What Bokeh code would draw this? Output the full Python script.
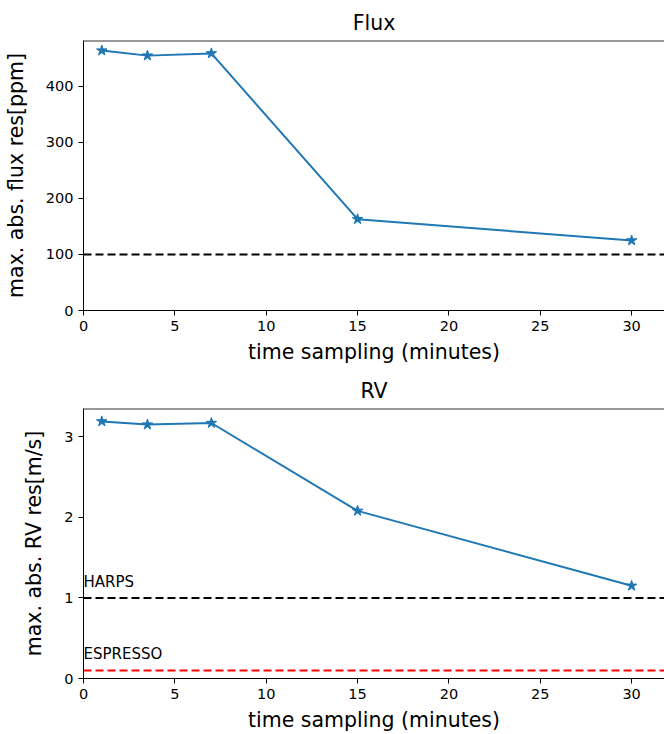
from bokeh.plotting import figure
from bokeh.layouts import column
from bokeh.models import Span, Label, FixedTicker, Range1d
from bokeh.embed import file_html
from bokeh.resources import INLINE

# data
sampling = [1, 3.5, 7, 15, 30]
flux_res = [464, 455, 459, 163, 125]
rv_res = [3.19, 3.15, 3.17, 2.08, 1.15]
flux_limit = 100
harps_limit = 1.0
espresso_limit = 0.1
x_ticks = [0, 5, 10, 15, 20, 25, 30]
flux_ticks = [0, 100, 200, 300, 400]
rv_ticks = [0, 1, 2, 3]
x_max = 31.8
flux_max = 482
rv_max = 3.35

FONT = "DejaVu Sans"
BLUE = "#1f77b4"


def style(p, yticks, ylabel, ytop):
    p.title.text_font = FONT
    p.title.text_font_size = "20.5px"
    p.title.text_font_style = "normal"
    p.title.text_color = "black"
    p.title.align = "center"
    p.title.standoff = 12
    p.xaxis.axis_label = "time sampling (minutes)"
    p.yaxis.axis_label = ylabel
    for ax in (p.xaxis[0], p.yaxis[0]):
        ax.axis_label_text_font = FONT
        ax.axis_label_text_font_size = "20.5px"
        ax.axis_label_text_font_style = "normal"
        ax.axis_label_text_color = "black"
        ax.major_label_text_font = FONT
        ax.major_label_text_font_size = "14.5px"
        ax.major_label_text_color = "black"
        ax.axis_line_color = "black"
        ax.major_tick_line_color = "black"
        ax.major_tick_out = 5
        ax.major_tick_in = 0
        ax.minor_tick_line_color = None
    p.xaxis.axis_label_standoff = 6
    p.yaxis.axis_label_standoff = 15
    p.xaxis.ticker = FixedTicker(ticks=x_ticks)
    p.yaxis.ticker = FixedTicker(ticks=yticks)
    p.xgrid.visible = False
    p.ygrid.visible = False
    p.outline_line_color = None
    p.add_layout(Span(location=ytop, dimension="width", line_color="#333333", line_width=2))
    p.background_fill_color = "white"
    p.border_fill_color = "white"


p1 = figure(width=664, height=370, output_backend="svg", toolbar_location=None,
            title="Flux", x_range=Range1d(0, x_max), y_range=Range1d(0, flux_max),
            min_border_left=82, min_border_right=0, min_border_top=40, min_border_bottom=60)
p1.add_layout(Span(location=flux_limit, dimension="width", line_color="black",
                   line_dash="8 4", line_width=2))
p1.line(sampling, flux_res, line_color=BLUE, line_width=2)
p1.scatter(sampling, flux_res, marker="star", size=11, fill_color=BLUE, line_color=BLUE)
style(p1, flux_ticks, "max. abs. flux res[ppm]", flux_max)

p2 = figure(width=664, height=364, output_backend="svg", toolbar_location=None,
            title="RV", x_range=Range1d(0, x_max), y_range=Range1d(0, rv_max),
            min_border_left=82, min_border_right=0, min_border_top=37, min_border_bottom=56)
p2.add_layout(Span(location=harps_limit, dimension="width", line_color="black",
                   line_dash="8 4", line_width=2))
p2.add_layout(Span(location=espresso_limit, dimension="width", line_color="red",
                   line_dash="8 4", line_width=2))
p2.line(sampling, rv_res, line_color=BLUE, line_width=2)
p2.scatter(sampling, rv_res, marker="star", size=11, fill_color=BLUE, line_color=BLUE)
p2.add_layout(Label(x=0, y=harps_limit, text="HARPS", y_offset=7, text_font=FONT,
                    text_font_size="15px", text_color="black"))
p2.add_layout(Label(x=0, y=espresso_limit, text="ESPRESSO", y_offset=7, text_font=FONT,
                    text_font_size="15px", text_color="black"))
style(p2, rv_ticks, "max. abs. RV res[m/s]", rv_max)

layout = column(p1, p2, spacing=0)
open("out.html", "w").write(file_html(layout, INLINE))
